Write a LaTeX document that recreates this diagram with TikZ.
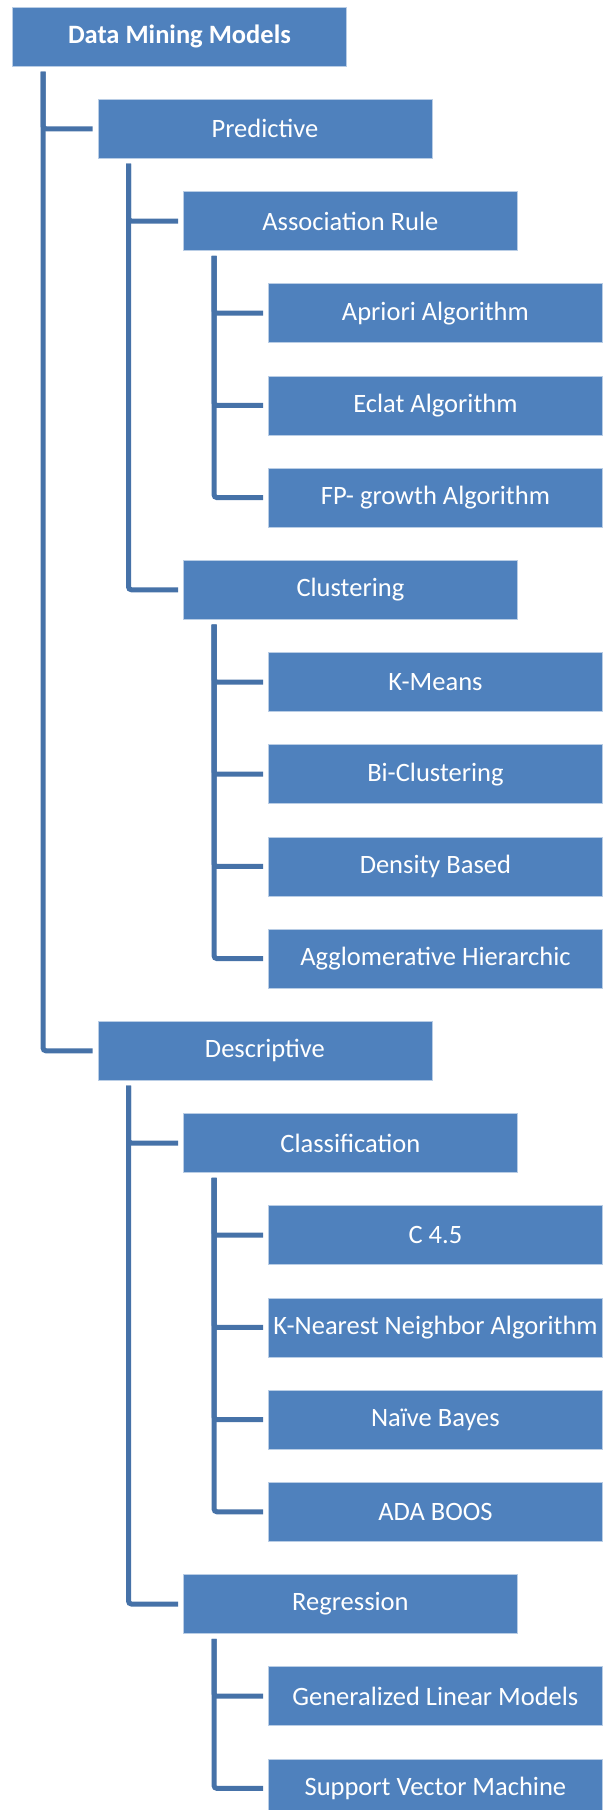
\documentclass[tikz,border=0pt]{standalone}
\usepackage{fontspec}
\setmainfont{Carlito}
\usetikzlibrary{calc}
\definecolor{boxblue}{RGB}{79,129,189}
\definecolor{boxedge}{RGB}{185,205,229}
\definecolor{linkblue}{RGB}{70,114,168}
\tikzset{
  mbox/.style={rectangle, fill=boxblue, draw=boxedge, line width=0.8pt, text=white,
    minimum width=334pt, minimum height=59pt, inner sep=0pt, anchor=north west,
    font=\fontsize{26.5}{30}\selectfont},
  conn/.style={draw=linkblue, line width=5pt, rounded corners=3pt}
}
\begin{document}
\begin{tikzpicture}[x=1pt,y=1pt]
\useasboundingbox (0,0) rectangle (606,-1810);
\clip (0,0) rectangle (606,-1810);
\node[mbox, font=\fontsize{26.5}{30}\selectfont\bfseries] (root) at (12,-6.7) {Data Mining Models};
\node[mbox] (pred) at (97.5,-98.9) {Predictive};
\node[mbox] (assoc) at (183,-191.1) {Association Rule};
\node[mbox] (apri) at (268,-283.3) {Apriori Algorithm};
\node[mbox] (eclat) at (268,-375.5) {Eclat Algorithm};
\node[mbox] (fp) at (268,-467.7) {FP- growth Algorithm};
\node[mbox] (clus) at (183,-559.9) {Clustering};
\node[mbox] (kmeans) at (268,-652.1) {K-Means};
\node[mbox] (bic) at (268,-744.3) {Bi-Clustering};
\node[mbox] (dens) at (268,-836.5) {Density Based};
\node[mbox] (aggl) at (268,-928.7) {Agglomerative Hierarchic};
\node[mbox] (desc) at (97.5,-1020.9) {Descriptive};
\node[mbox] (class) at (183,-1113.1) {Classification};
\node[mbox] (c45) at (268,-1205.3) {C 4.5};
\node[mbox] (knn) at (268,-1297.5) {K-Nearest Neighbor Algorithm};
\node[mbox] (naive) at (268,-1389.7) {Naïve Bayes};
\node[mbox] (ada) at (268,-1481.9) {ADA BOOS};
\node[mbox] (regr) at (183,-1574.1) {Regression};
\node[mbox] (glm) at (268,-1666.3) {Generalized Linear Models};
\node[mbox] (svm) at (268,-1758.5) {Support Vector Machine};
% connectors
\foreach \p/\c in {root/pred, root/desc,
                   pred/assoc, pred/clus,
                   assoc/apri, assoc/eclat, assoc/fp,
                   clus/kmeans, clus/bic, clus/dens, clus/aggl,
                   desc/class, desc/regr,
                   class/c45, class/knn, class/naive, class/ada,
                   regr/glm, regr/svm}
  \draw[conn] ([xshift=31pt,yshift=-5pt]\p.south west) |- ([xshift=-5pt]\c.west);
\end{tikzpicture}
\end{document}
